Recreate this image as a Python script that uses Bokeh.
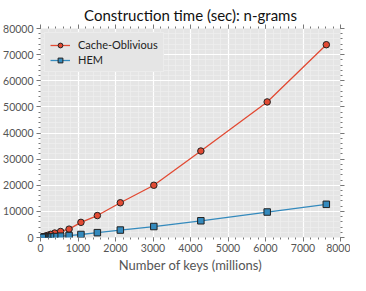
from bokeh.plotting import figure
from bokeh.embed import file_html
from bokeh.resources import INLINE
from bokeh.models import SingleIntervalTicker, LinearAxis, Range1d, Legend, LegendItem, CustomJSTickFormatter

keys_millions = [7622, 6045, 4276, 3022, 2129, 1516, 1078, 762, 536, 378, 268, 189, 134, 95, 67, 47]
cache_oblivious = [73800, 51900, 33100, 20000, 13300, 8400, 5800, 3200, 2300, 1700, 1200, 800, 550, 380, 260, 170]
hem = [12700, 9750, 6400, 4200, 2850, 1850, 1150, 750, 500, 350, 240, 170, 115, 80, 55, 38]

FONT = "Lato"
BG = "#E5E5E5"
RED = "#E24A33"
BLUE = "#348ABD"

p = figure(width=350, height=275, output_backend="svg", toolbar_location=None,
           x_range=Range1d(0, 8000), y_range=Range1d(0, 80000),
           title="Construction time (sec): n-grams",
           min_border_left=40, min_border_right=10, min_border_top=28, min_border_bottom=36,
           background_fill_color=BG, border_fill_color="white", outline_line_color=None)

p.title.text_font = FONT
p.title.text_font_size = "15px"
p.title.text_font_style = "normal"
p.title.text_color = "#111111"
p.title.align = "center"
p.title.standoff = 2

xt = SingleIntervalTicker(interval=1000, num_minor_ticks=5)
yt = SingleIntervalTicker(interval=10000, num_minor_ticks=5)
p.xaxis.ticker = xt
p.yaxis.ticker = yt
p.xgrid.ticker = xt
p.ygrid.ticker = yt

for g in (p.xgrid, p.ygrid):
    g.grid_line_color = "white"
    g.grid_line_width = 1.2
    g.minor_grid_line_color = "#F0F0F0"
    g.minor_grid_line_width = 0.6

def style_axis(ax):
    ax.axis_line_color = None
    ax.major_tick_line_color = "#777777"
    ax.minor_tick_line_color = "#777777"
    ax.major_tick_out = 4
    ax.major_tick_in = 0
    ax.minor_tick_out = 2
    ax.minor_tick_in = 0
    ax.major_label_text_font = FONT
    ax.major_label_text_font_size = "10.5px"
    ax.major_label_text_color = "#555555"

style_axis(p.xaxis[0])
style_axis(p.yaxis[0])
p.xaxis.axis_label = "Number of keys (millions)"
p.xaxis.axis_label_text_font = FONT
p.xaxis.axis_label_text_font_size = "13px"
p.xaxis.axis_label_text_font_style = "normal"
p.xaxis.axis_label_text_color = "#555555"
p.xaxis.axis_label_standoff = 2
p.xaxis.major_label_standoff = 2
p.yaxis.major_label_standoff = 3

blank = CustomJSTickFormatter(code="return '';")
top_ax = LinearAxis(ticker=xt, formatter=blank)
right_ax = LinearAxis(ticker=yt, formatter=blank)
style_axis(top_ax)
style_axis(right_ax)
top_ax.major_label_standoff = 0
right_ax.major_label_standoff = 0
p.add_layout(top_ax, "above")
p.add_layout(right_ax, "right")

r1 = p.line(keys_millions, cache_oblivious, line_color=RED, line_width=1.3)
m1 = p.scatter(keys_millions, cache_oblivious, marker="circle", size=6.5,
               fill_color=RED, line_color="#222222", line_width=1)
r2 = p.line(keys_millions, hem, line_color=BLUE, line_width=1.3)
m2 = p.scatter(keys_millions, hem, marker="square", size=6.5,
               fill_color=BLUE, line_color="#222222", line_width=1)

legend = Legend(items=[LegendItem(label="Cache-Oblivious", renderers=[r1, m1]),
                       LegendItem(label="HEM", renderers=[r2, m2])],
                location="top_left")
legend.background_fill_color = BG
legend.background_fill_alpha = 1
legend.border_line_color = "#F4F4F4"
legend.border_line_width = 1
legend.label_text_font = FONT
legend.label_text_font_size = "11px"
legend.label_text_color = "#222222"
legend.glyph_width = 20
legend.glyph_height = 12
legend.label_height = 12
legend.spacing = 2
legend.padding = 5
legend.margin = 4
legend.label_standoff = 8
p.add_layout(legend)

open("out.html", "w").write(file_html(p, INLINE))
